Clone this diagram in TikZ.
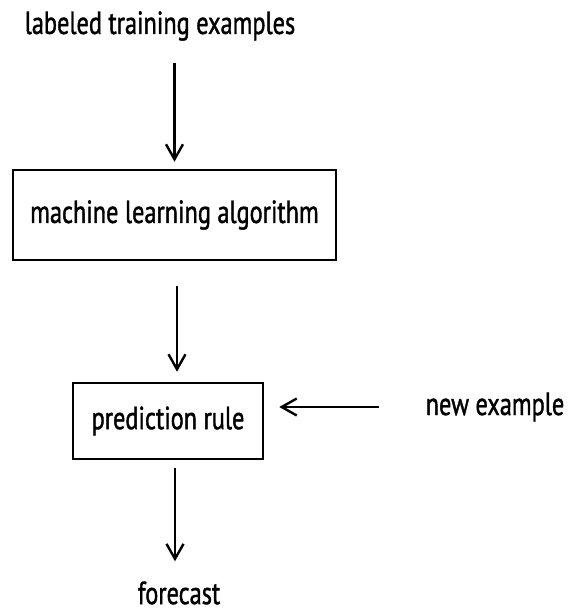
\documentclass[tikz,border=0pt]{standalone}
\usepackage{fontspec}
\setmainfont{PT Sans}[FakeStretch=0.76,FakeBold=1.2]
\usepackage{tikz}
\usetikzlibrary{arrows.meta, positioning}
\tikzset{%
	every box/.style={
		draw,
		line width=2.6pt,
		inner sep=0pt,
		font=\fontsize{32}{36}\selectfont
	},
	every label text/.style={
		inner sep=0pt,
		font=\fontsize{32}{36}\selectfont
	},
	flow arrow/.style={
		line width=2.4pt,
		-{Straight Barb[length=15pt,width=17pt,line width=2.4pt]}
	},
}
\begin{document}
\begin{tikzpicture}[x=1pt,y=-1pt]
			% Fix the size of the picture
			\useasboundingbox (0,0) rectangle (571,614);
			
			% Draw the texts and the boxes
			\node[every label text] (training) at (160,26) {labeled training examples};
			\node[every box, minimum width=323pt, minimum height=90pt] (algorithm) at (174.5,215) {machine learning algorithm};
			\node[every box, minimum width=190pt, minimum height=76pt] (rule) at (168,421) {prediction rule};
			\node[every label text] (newex) at (495,407) {new example};
			\node[every label text] (forecast) at (179,593) {forecast};
			
			% Draw the arrows between them
			\draw[flow arrow, shorten <=22pt, shorten >=7pt] (algorithm.north |- training.south) -- (algorithm.north);
			\draw[flow arrow, shorten <=25pt, shorten >=10pt] ([xshift=2.5pt]algorithm.south) -- ([xshift=2.5pt]algorithm.south |- rule.north);
			\draw[flow arrow, shorten <=47pt, shorten >=15pt] (newex.west) -- (newex.west -| rule.east);
			\draw[flow arrow, shorten <=8pt, shorten >=20pt] ([xshift=7pt]rule.south) -- ([xshift=7pt]rule.south |- forecast.north);
			
		\end{tikzpicture}
\end{document}
